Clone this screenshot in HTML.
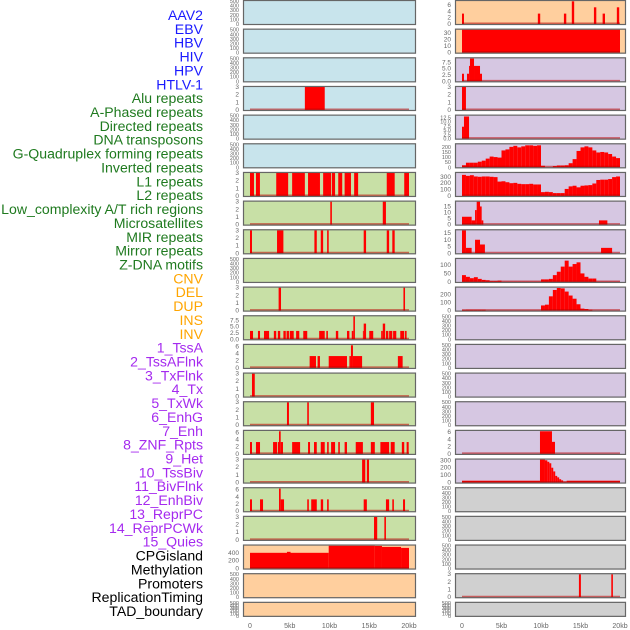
<!DOCTYPE html>
<html><head><meta charset="utf-8">
<style>
html,body{margin:0;padding:0;background:#fff;}
svg{display:block;font-family:"Liberation Sans",sans-serif;}
</style></head>
<body>
<svg id="chart" width="630" height="630" viewBox="0 0 630 630" xmlns="http://www.w3.org/2000/svg"></svg>
<script>
// ---------- data (kb segments: [start, end, value]) ----------
const trackLabels = ["AAV2","EBV","HBV","HIV","HPV","HTLV-1","Alu repeats","A-Phased repeats","Directed repeats","DNA transposons","G-Quadruplex forming repeats","Inverted repeats","L1 repeats","L2 repeats","Low_complexity A/T rich regions","Microsatellites","MIR repeats","Mirror repeats","Z-DNA motifs","CNV","DEL","DUP","INS","INV","1_TssA","2_TssAFlnk","3_TxFlnk","4_Tx","5_TxWk","6_EnhG","7_Enh","8_ZNF_Rpts","9_Het","10_TssBiv","11_BivFlnk","12_EnhBiv","13_ReprPC","14_ReprPCWk","15_Quies","CPGisland","Methylation","Promoters","ReplicationTiming","TAD_boundary"];
const labelGroups = ["virus","virus","virus","virus","virus","virus","rep","rep","rep","rep","rep","rep","rep","rep","rep","rep","rep","rep","rep","sv","sv","sv","sv","sv","cs","cs","cs","cs","cs","cs","cs","cs","cs","cs","cs","cs","cs","cs","cs","oth","oth","oth","oth","oth"];
const xTickValues = [0,5,10,15,20];
const xTickLabels = ["0","5kb","10kb","15kb","20kb"];

const hivSegs = [[6.9,9.4,3]];
const aluSegs = [[0,0.5,3],[0.75,1.25,3],[3.3,4.8,3],[5.3,6.9,3],[7.3,8.8,3],[9.2,10.2,3],[10.3,10.7,3],[11.1,11.6,3],[11.9,12.7,3],[13.1,13.6,3],[17.2,18.2,3],[19.4,20,3]];
const aphasedSegs = [[10.1,10.3,3],[16.7,17.1,3]];
const directedSegs = [[0,0.25,3],[3.4,4.2,3],[8.1,8.4,3],[8.9,9.2,3],[9.7,9.9,3],[14.3,14.6,3],[17.2,17.5,3],[17.9,18.2,3]];
const gquadSegs = [[3.6,3.9,3],[19.3,19.5,3]];
const invertedSegs = [[0,0.38,3.3],[1.0,1.26,3.3],[1.76,2.4,3.3],[3.0,3.3,3.3],[3.5,3.8,3.3],[4.2,4.5,3.3],[4.6,4.9,3.3],[5.0,5.5,3.3],[5.8,6.2,3.3],[6.7,7.2,3.3],[8.7,9.4,3.3],[9.6,9.8,3.3],[10.8,11.1,3.3],[12.2,12.5,3.3],[12.8,13.0,3.3],[13.0,13.2,9.1],[14.2,14.3,3.3],[14.3,14.6,6.2],[15.0,15.5,3.3],[16.5,16.7,3.3],[16.7,17.0,6.2],[17.1,17.4,3.3],[17.5,17.9,3.3],[18.0,18.4,3.3],[18.9,19.4,3.3],[19.5,19.7,3.3]];
const l1Segs = [[7.5,8.3,3.3],[8.5,8.8,3.3],[9.9,12.2,3.3],[12.5,12.7,3.3],[12.7,12.95,6.3],[12.95,14.1,3.3],[18.6,19.2,3.3]];
const l2Segs = [[0.25,0.6,3]];
const lowcSegs = [[4.65,4.9,3],[7.2,7.4,3],[15.2,15.6,3]];
const microSegs = [[0,0.25,3.3],[0.75,1.26,3.3],[2.9,3.4,3.3],[3.5,3.65,3.3],[3.65,3.86,6.3],[3.86,4.15,3.3],[5.3,6.3,3.3],[7.3,7.55,3.3],[8.05,8.4,3.3],[8.9,9.4,3.3],[9.7,9.9,3.3],[10.2,10.7,3.3],[11.1,11.3,3.3],[11.9,12.2,3.3],[13.3,14.2,3.3],[15.2,15.7,3.3],[16.4,17.5,3.3],[17.7,18.2,3.3],[19.1,19.4,3.3],[19.7,19.96,3.3]];
const mirSegs = [[14.1,14.5,3],[14.7,14.97,3]];
const mirrorSegs = [[0,0.25,3.3],[1.26,1.64,3.3],[3.65,3.86,6.3],[3.86,4.28,3.3],[7.2,7.4,3.3],[7.7,8.4,3.3],[8.9,9.2,3.3],[9.7,9.9,3.3],[14.3,14.7,3.3],[17.1,17.5,3.3],[17.9,18.1,3.3],[19.25,19.5,3.3]];
const zdnaSegs = [[15.6,16.0,3],[16.9,17.1,3]];
const cnvSegs = [[0,9.9,400],[4.65,5.1,425],[9.9,15.7,580],[15.7,16.6,575],[16.6,19.0,550],[19.0,20,525]];

const insSegs = [[0,0.25,3.3],[9.6,9.9,3.3],[12.9,13.2,3.3],[13.9,14.2,7.2],[16.7,17.0,5.3],[17.8,18.1,3.3],[19.6,19.9,5.3]];
const invSegs = [[0,20,35]];
const tssaSegs = [[0,0.25,3.0],[0.63,0.89,3.0],[0.89,1.01,6.1],[1.01,1.52,9.0],[1.52,2.28,6.1],[2.28,2.53,3.0]];
const tssaflnkSegs = [[0,0.5,3]];
const txflnkSegs = [[0,0.25,7],[0.25,0.89,13]];
const txBins = [20,45,45,45,55,65,85,105,100,95,165,175,200,210,195,205,215,215,210,215,15,0,0,12,18,18,20,40,80,160,195,205,195,165,145,150,145,130,105,90];
const txwkBins = [330,315,325,305,300,305,305,300,295,225,230,215,200,205,190,185,185,190,180,180,60,65,60,45,45,45,110,150,160,135,160,165,170,195,250,255,255,265,295,305];
const enhgSegs = [[0,1.22,6.5],[1.22,1.65,3.5],[1.65,1.86,12],[1.86,2.28,19],[2.28,2.49,15],[2.49,2.7,3.5],[17.34,18.4,3.5]];
const enhSegs = [[0,0.5,17],[0.5,1.22,4],[1.65,2.28,10],[2.28,2.9,6.5],[17.6,19.0,4]];
const znfBins = [40,30,22,28,18,12,10,5,5,8,2,2,2,2,2,2,2,2,2,2,15,15,18,40,60,90,125,90,105,115,50,30,20,20,2,2,2,2,2,2];
const hetBins = [8,10,10,10,10,10,3,3,3,3,3,3,3,3,3,3,3,3,3,3,65,75,180,260,285,280,240,190,150,80,25,20,10,2,2,2,2,2,2,2];
const reprpcwkSegs = [[9.87,11.39,6.2],[11.39,11.77,3.3]];
const quiesSegs = [[0,9.87,25],[9.87,10.5,310],[10.5,10.8,300],[10.8,11.05,280],[11.05,11.3,260],[11.3,11.55,200],[11.55,11.8,150],[11.8,12.05,90],[12.05,12.3,70],[12.3,12.55,45],[12.55,12.8,30],[12.8,13.25,10],[13.25,20,25]];
const repliSegs = [[14.8,15.05,3],[18.9,19.1,3]];

const EMPTY_T = [0,100,200,300,400,500];
function bins(arr){ const out=[]; for(let i=0;i<arr.length;i++){ out.push([i*0.5,(i+1)*0.5,arr[i]]); } return out; }

// track specs: [column, row, bg, ymax, ticks, tickFmt, segs]
const tracks = [
 ["L",0,"blue",500,EMPTY_T,0,null],
 ["L",1,"blue",500,EMPTY_T,0,null],
 ["L",2,"blue",500,EMPTY_T,0,null],
 ["L",3,"blue",3,[0,1,2,3],0,hivSegs],
 ["L",4,"blue",500,EMPTY_T,0,null],
 ["L",5,"blue",500,EMPTY_T,0,null],
 ["L",6,"green",3,[0,1,2,3],0,aluSegs],
 ["L",7,"green",3,[0,1,2,3],0,aphasedSegs],
 ["L",8,"green",3,[0,1,2,3],0,directedSegs],
 ["L",9,"green",500,EMPTY_T,0,null],
 ["L",10,"green",3,[0,1,2,3],0,gquadSegs],
 ["L",11,"green",9.1,[0,2.5,5,7.5],1,invertedSegs],
 ["L",12,"green",6.4,[0,2,4,6],0,l1Segs],
 ["L",13,"green",3,[0,1,2,3],0,l2Segs],
 ["L",14,"green",3,[0,1,2,3],0,lowcSegs],
 ["L",15,"green",6.4,[0,2,4,6],0,microSegs],
 ["L",16,"green",3,[0,1,2,3],0,mirSegs],
 ["L",17,"green",6.4,[0,2,4,6],0,mirrorSegs],
 ["L",18,"green",3,[0,1,2,3],0,zdnaSegs],
 ["L",19,"orange",585,[0,200,400],0,cnvSegs],
 ["L",20,"orange",500,EMPTY_T,0,null],
 ["L",21,"orange",500,EMPTY_T,0,null],
 ["R",0,"orange",7.3,[0,2,4,6],0,insSegs],
 ["R",1,"orange",35,[0,10,20,30],0,invSegs],
 ["R",2,"purple",9.1,[0,2.5,5,7.5],1,tssaSegs],
 ["R",3,"purple",3,[0,1,2,3],0,tssaflnkSegs],
 ["R",4,"purple",13.5,[0,2.5,5,7.5,10,12.5],1,txflnkSegs],
 ["R",5,"purple",225,[0,50,100,150,200],0,bins(txBins)],
 ["R",6,"purple",360,[0,100,200,300],0,bins(txwkBins)],
 ["R",7,"purple",19,[0,5,10,15],0,enhgSegs],
 ["R",8,"purple",17,[0,5,10,15],0,enhSegs],
 ["R",9,"purple",135,[0,50,100],0,bins(znfBins)],
 ["R",10,"purple",290,[0,100,200],0,bins(hetBins)],
 ["R",11,"purple",500,EMPTY_T,0,null],
 ["R",12,"purple",500,EMPTY_T,0,null],
 ["R",13,"purple",500,EMPTY_T,0,null],
 ["R",14,"purple",500,EMPTY_T,0,null],
 ["R",15,"purple",6.3,[0,2,4,6],0,reprpcwkSegs],
 ["R",16,"purple",310,[0,100,200,300],0,quiesSegs],
 ["R",17,"gray",500,EMPTY_T,0,null],
 ["R",18,"gray",500,EMPTY_T,0,null],
 ["R",19,"gray",500,EMPTY_T,0,null],
 ["R",20,"gray",3,[0,1,2,3],0,repliSegs],
 ["R",21,"gray",500,EMPTY_T,0,null]
];
const trackNames = trackLabels;

// ---------- layout ----------
const NS="http://www.w3.org/2000/svg";
const svg=document.getElementById("chart");
const BG={blue:"#c8e4ec",green:"#c8e0a6",orange:"#ffcf9e",purple:"#d6c7e2",gray:"#d0d0d0"};
const COL={L:{x0:243,x1:416,d0:250,d1:409},R:{x0:455,x1:626,d0:462,d1:620}};
const GROUPCOL={virus:"#1a1aff",rep:"#1f7a1f",sv:"#ffa500",cs:"#a52aef",oth:"#000"};
function rowTop(r){return r*28.66;}
function rowH(r){return r===21?15:25;}
function mk(tag,attrs,parent){const e=document.createElementNS(NS,tag);for(const k in attrs)e.setAttribute(k,attrs[k]);(parent||svg).appendChild(e);return e;}

// labels
for(let i=0;i<trackLabels.length;i++){
  const t=mk("text",{x:203,y:20+i*13.86,"text-anchor":"end","font-size":"14.1",fill:GROUPCOL[labelGroups[i]]});
  t.textContent=trackLabels[i];
  
  
}

tracks.forEach((tr,idx)=>{
  const [c,r,bg,ymax,ticks,fmt,segs]=tr;
  const C=COL[c];
  const top=rowTop(r), h=rowH(r), bot=top+h;
  const xs=v=>C.d0+(v/20)*(C.d1-C.d0);
  const ys=v=>bot-1-(v/ymax)*(h-2);
  const g=mk("g",{});
  
  
  mk("rect",{x:C.x0,y:top,width:C.x1-C.x0,height:h,fill:BG[bg]},g);
  if(segs){
    segs.forEach(s=>{
      if(s[2]<=0)return;
      const y=ys(s[2]);
      const rc=mk("rect",{x:xs(s[0]),y:y,width:Math.max(0.8,xs(s[1])-xs(s[0])),height:ys(0)-y,fill:"#ff0000"},g);
      
      
    });
    mk("line",{x1:xs(0),x2:xs(20),y1:ys(0)-0.5,y2:ys(0)-0.5,stroke:"rgba(190,0,0,0.55)","stroke-width":2},g);
  }
  mk("rect",{x:C.x0+0.5,y:top+0.5,width:C.x1-C.x0-1,height:h-1,fill:"none",stroke:"#666","stroke-width":1.2},g);
  const fs = ticks.length>4?5.5:6.5;
  ticks.forEach(t=>{
    const yy=(t===0)?bot-1:ys(t);
    const tx=mk("text",{x:C.x0-4,y:yy+2,"text-anchor":"end","font-size":fs,fill:"#666"},g);
    tx.textContent = fmt? t.toFixed(1) : String(t);
    
    
  });
});

// x axes
["L","R"].forEach(c=>{
  const C=COL[c];
  xTickValues.forEach((v,i)=>{
    const t=mk("text",{x:C.d0+(v/20)*(C.d1-C.d0),y:628,"text-anchor":"middle","font-size":"7",fill:"#666"});
    t.textContent=xTickLabels[i];
    
    
  });
});
</script>
</body></html>
